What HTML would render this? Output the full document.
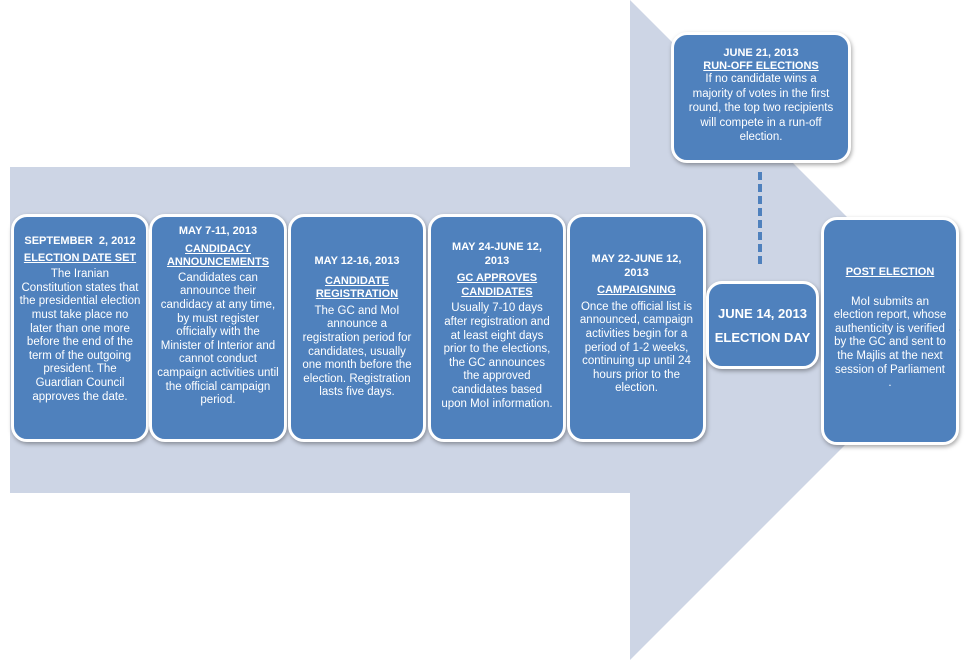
<!DOCTYPE html>
<html><head><style>
body{margin:0;width:967px;height:665px;background:#fff;position:relative;overflow:hidden;font-family:"Liberation Sans",sans-serif}
.b{position:absolute;background:#4f81bd;border:3px solid #fff;border-radius:16px;box-shadow:1px 2px 4px rgba(0,0,0,.35);color:#fff;text-align:center;font-size:11.5px;line-height:13.6px;box-sizing:border-box;padding-left:9px;padding-right:9px}
.h{font-weight:bold;font-size:11px}
u{font-weight:bold;font-size:11px}
</style></head><body>
<svg width="967" height="665" style="position:absolute;left:0;top:0">
<polygon points="10,167 630,167 630,0 960,330 630,660 630,493 10,493" fill="#cdd5e5"/>
<line x1="760" y1="172" x2="760" y2="266" stroke="#4f81bd" stroke-width="4" stroke-dasharray="8,4"/>
</svg>
<div class="b" style="left:11px;top:214px;width:138px;height:228px;padding-top:18px;padding-left:5px;padding-right:5px"><div class="h">SEPTEMBER &nbsp;2, 2012</div><div style="margin:3px 0"><u>ELECTION DATE SET</u></div>The Iranian Constitution states that the presidential election must take place no later than one more before the end of the term of the outgoing president. The Guardian Council approves the date.</div>
<div class="b" style="left:149px;top:214px;width:138px;height:228px;padding-top:8px;padding-left:5px;padding-right:5px"><div class="h">MAY 7-11, 2013</div><div style="margin:4px 0 2px"><u>CANDIDACY ANNOUNCEMENTS</u></div>Candidates can announce their candidacy at any time, by must register officially with the Minister of Interior and cannot conduct campaign activities until the official campaign period.</div>
<div class="b" style="left:288px;top:214px;width:138px;height:228px;padding-top:38px"><div class="h">MAY 12-16, 2013</div><div style="margin:6px 0 3px"><u>CANDIDATE REGISTRATION</u></div>The GC and MoI announce a registration period for candidates, usually one month before the election. Registration lasts five days.</div>
<div class="b" style="left:428px;top:214px;width:138px;height:228px;padding-top:24px"><div class="h">MAY 24-JUNE 12, 2013</div><div style="margin:4px 0 3px"><u>GC APPROVES CANDIDATES</u></div>Usually 7-10 days after registration and at least eight days prior to the elections, the GC announces the approved candidates based upon MoI information.</div>
<div class="b" style="left:567px;top:214px;width:139px;height:228px;padding-top:36px;padding-left:6px;padding-right:6px"><div class="h" style="padding:0 8px">MAY 22-JUNE 12, 2013</div><div style="margin:4px 0 3px"><u>CAMPAIGNING</u></div>Once the official list is announced, campaign activities begin for a period of 1-2 weeks, continuing up until 24 hours prior to the election.</div>
<div class="b" style="left:706px;top:281px;width:113px;height:88px;padding:18px 0 0;font-weight:bold;font-size:13px;line-height:24px;white-space:nowrap">JUNE 14, 2013<br>ELECTION DAY</div>
<div class="b" style="left:821px;top:217px;width:138px;height:228px;padding-top:46px"><div><u>POST ELECTION</u></div><div style="margin-top:16px">MoI submits an election report, whose authenticity is verified by the GC and sent to the Majlis at the next session of Parliament .</div></div>
<div class="b" style="left:671px;top:32px;width:180px;height:131px;padding:11px 14px 0;font-size:11.5px;line-height:14.4px"><div class="h">JUNE 21, 2013</div><div style="line-height:12px"><u>RUN-OFF ELECTIONS</u></div>If no candidate wins a majority of votes in the first round, the top two recipients will compete in a run-off election.</div>
</body></html>
